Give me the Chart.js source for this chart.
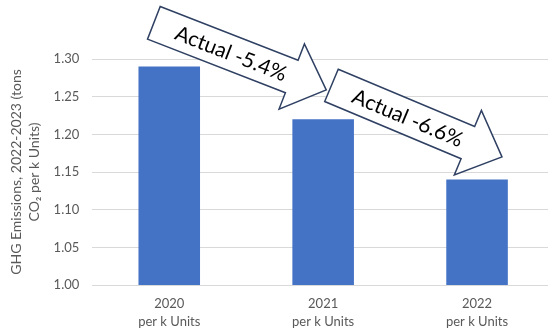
<!DOCTYPE html>
<html>
<head>
<meta charset="utf-8">
<script src="https://cdn.jsdelivr.net/npm/chart.js@4.4.1/dist/chart.umd.min.js"></script>
<style>
  html, body { margin: 0; padding: 0; background: #fff; overflow: hidden; }
  #wrap { width: 554px; height: 332px; }
</style>
</head>
<body>
<div id="wrap"><canvas id="ghgChart" width="554" height="332"></canvas></div>
<script>
// Datos del grafico
const years = ["2020", "2021", "2022"];
const unitLabel = "per k Units";
const emissions = [1.29, 1.22, 1.14];
const yTicks = [1.00, 1.05, 1.10, 1.15, 1.20, 1.25, 1.30];
const yTitle = ["GHG Emissions, 2022-2023 (tons", "CO\u2082 per k Units)"];
const arrowLabels = ["Actual -5.4%", "Actual -6.6%"];

// Flechas: cola y punta en coordenadas de datos (indice, valor)
const arrowGeom = [
    { tail: [-0.10, 1.348], tip: [1.02, 1.259] },
    { tail: [1.054, 1.265], tip: [2.162, 1.170] }
];

const gray = "#595959";
const font = "Lato";

// Plugin para dibujar las flechas con texto
const arrowPlugin = {
    id: "arrows",
    afterDatasetsDraw(chart) {
        const ctx = chart.ctx;
        const xs = chart.scales.x, ys = chart.scales.y;
        arrowGeom.forEach((a, i) => {
            const x0 = xs.getPixelForValue(a.tail[0]), y0 = ys.getPixelForValue(a.tail[1]);
            const x1 = xs.getPixelForValue(a.tip[0]), y1 = ys.getPixelForValue(a.tip[1]);
            const len = Math.hypot(x1 - x0, y1 - y0);
            const ang = Math.atan2(y1 - y0, x1 - x0);
            const sw = 17.5, hw = 35, hb = len - 37;
            ctx.save();
            ctx.translate(x0, y0);
            ctx.rotate(ang);
            ctx.beginPath();
            ctx.moveTo(0, -sw);
            ctx.lineTo(hb, -sw);
            ctx.lineTo(hb, -hw);
            ctx.lineTo(len, 0);
            ctx.lineTo(hb, hw);
            ctx.lineTo(hb, sw);
            ctx.lineTo(0, sw);
            ctx.closePath();
            ctx.fillStyle = "#ffffff";
            ctx.fill();
            ctx.lineWidth = 1.5;
            ctx.strokeStyle = "#2f4063";
            ctx.stroke();
            ctx.fillStyle = "#000000";
            ctx.font = "21px " + font;
            ctx.textAlign = "center";
            ctx.textBaseline = "middle";
            ctx.fillText(arrowLabels[i], 83, 1);
            ctx.restore();
        });
    }
};

const ctx = document.getElementById("ghgChart").getContext("2d");
new Chart(ctx, {
    type: "bar",
    data: {
        labels: years.map(y => [y, unitLabel]),
        datasets: [{
            data: emissions,
            backgroundColor: "#4472c4",
            borderWidth: 0,
            categoryPercentage: 1,
            barPercentage: 0.4
        }]
    },
    options: {
        responsive: false,
        animation: false,
        layout: { padding: { top: 59, left: 0, right: 0, bottom: 0 } },
        plugins: {
            legend: { display: false },
            tooltip: { enabled: false }
        },
        scales: {
            x: {
                grid: { display: false },
                border: { display: true, color: "#d9d9d9", width: 1 },
                ticks: {
                    color: gray,
                    font: { family: font, size: 13, lineHeight: 1.38 },
                    padding: 2,
                    maxRotation: 0
                },
                afterFit: s => { s.height = 47; }
            },
            y: {
                min: 1.0,
                max: 1.3,
                grid: { color: "#d9d9d9", lineWidth: 1, drawTicks: false },
                border: { display: false },
                afterBuildTicks: s => { s.ticks = yTicks.map(v => ({ value: v })); },
                ticks: {
                    color: gray,
                    font: { family: font, size: 13 },
                    padding: 13,
                    callback: v => Number(v).toFixed(2)
                },
                title: {
                    display: true,
                    text: yTitle,
                    color: gray,
                    font: { family: font, size: 14, lineHeight: 1.3 },
                    padding: { top: 7, bottom: 0 }
                },
                afterFit: s => { s.width = 92.3; }
            }
        }
    },
    plugins: [arrowPlugin]
});
</script>
</body>
</html>
